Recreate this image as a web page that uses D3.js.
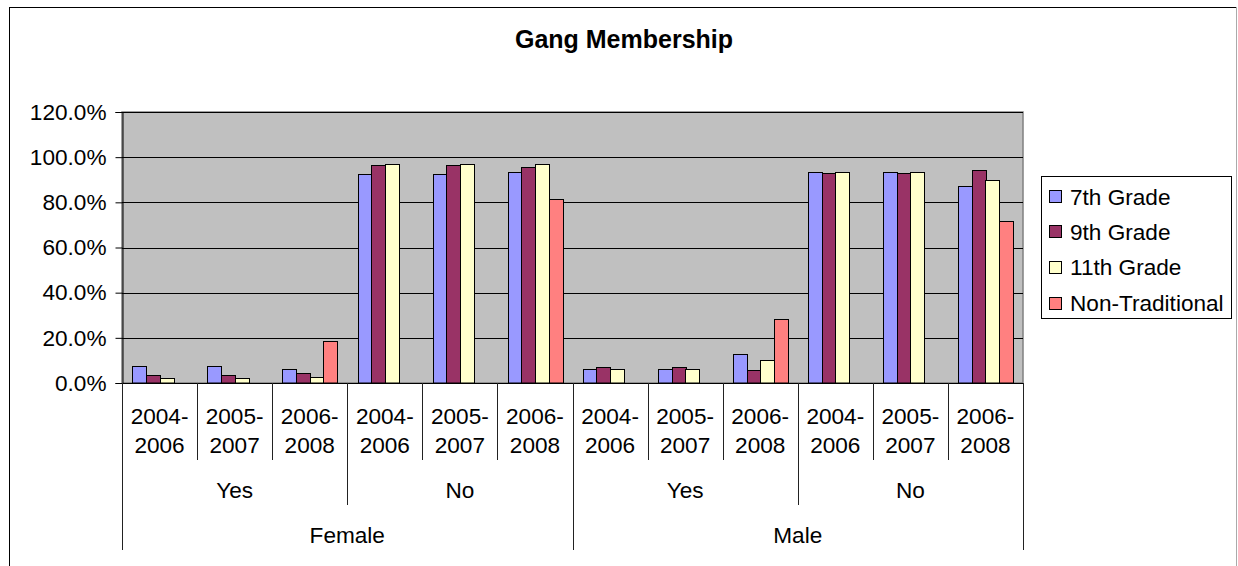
<!DOCTYPE html>
<html>
<head>
<meta charset="utf-8">
<script src="https://cdn.jsdelivr.net/npm/d3@7/dist/d3.min.js"></script>
<style>
  html, body { margin: 0; padding: 0; background: #fff; }
  svg { display: block; }
  text { font-family: "Liberation Sans", Arial, sans-serif; fill: #000; }
</style>
</head>
<body>
<svg id="chart" width="1238" height="566"></svg>
<script>
// ---- data ----
const genders = ["Female", "Male"];
const memberships = ["Yes", "No"];
const periods = ["2004-2006", "2005-2007", "2006-2008"];
const seriesNames = ["7th Grade", "9th Grade", "11th Grade", "Non-Traditional"];
const seriesColors = ["#9999FF", "#993366", "#FFFFCC", "#FF8080"];
// values in percent, ordered Female-Yes, Female-No, Male-Yes, Male-No, each by period
const grade7  = [7.7, 7.7, 6.2,  92.4, 92.4, 93.6,  6.2, 6.2, 12.8,  93.6, 93.6, 87.1];
const grade9  = [3.5, 3.5, 4.3,  96.5, 96.5, 95.8,  7.0, 7.0, 5.8,   93.0, 93.0, 94.3];
const grade11 = [2.1, 2.1, 2.8,  97.1, 97.1, 97.1,  6.2, 6.2, 10.0,  93.6, 93.6, 90.0];
const nonTrad = [null, null, 18.6,  null, null, 81.4,  null, null, 28.5,  null, null, 71.6];
const yTicks = [0, 20, 40, 60, 80, 100, 120];
const title = "Gang Membership";

// ---- build categories ----
const categories = [];
genders.forEach(g => memberships.forEach(m => periods.forEach(p => categories.push({g, m, p, key: g + "|" + m + "|" + p}))));
const seriesData = [grade7, grade9, grade11, nonTrad];

const svg = d3.select("#chart");
const W = 1238, H = 566;
const plot = {left: 122, right: 1023, top: 112, bottom: 383};
const FS = "22.6px";

// outer frame
svg.append("line").attr("x1", 9.5).attr("x2", 9.5).attr("y1", 7).attr("y2", H).attr("stroke", "#000");
svg.append("line").attr("x1", 9).attr("x2", 1237).attr("y1", 7.5).attr("y2", 7.5).attr("stroke", "#000");
svg.append("line").attr("x1", 1236.5).attr("x2", 1236.5).attr("y1", 7).attr("y2", H).attr("stroke", "#aaa");

// title
svg.append("text").attr("x", 624).attr("y", 48).attr("text-anchor", "middle")
  .style("font-size", "25px").style("font-weight", "bold").text(title);

const x0 = d3.scaleBand().domain(categories.map(d => d.key)).range([plot.left, plot.right]).padding(0);
const bw = x0.bandwidth();
const x1 = d3.scaleBand().domain(seriesNames).range([10.3, bw - 10.3]).padding(0);
const y = d3.scaleLinear().domain([0, 120]).range([plot.bottom, plot.top]);

// plot background
svg.append("rect").attr("x", plot.left).attr("y", plot.top)
  .attr("width", plot.right - plot.left).attr("height", plot.bottom - plot.top)
  .attr("fill", "#C0C0C0").attr("stroke", "#808080").attr("stroke-width", 1.5);

// gridlines
svg.append("g").selectAll("line").data(yTicks.filter(t => t > 0)).join("line")
  .attr("x1", plot.left).attr("x2", plot.right)
  .attr("y1", d => Math.round(y(d)) + 0.5).attr("y2", d => Math.round(y(d)) + 0.5)
  .attr("stroke", "#000").attr("stroke-width", 1);

// y axis
const yAxis = d3.axisLeft(y).tickValues(yTicks).tickSize(7).tickPadding(9)
  .tickFormat(d => d3.format(".1f")(d) + "%");
const yg = svg.append("g").attr("transform", `translate(${plot.left + 0.5},0)`).call(yAxis);
yg.select(".domain").attr("stroke", "#000");
yg.selectAll(".tick line").attr("stroke", "#000");
yg.selectAll(".tick text").style("font-size", FS).style("font-family", "Liberation Sans, Arial, sans-serif").attr("fill", "#000");

// bars
const barG = svg.append("g");
categories.forEach((c, i) => {
  seriesNames.forEach((s, j) => {
    const v = seriesData[j][i];
    if (v === null || v === undefined) return;
    const bx = Math.round(x0(c.key) + x1(s)) + 0.5;
    const by = Math.round(y(v)) + 0.5;
    barG.append("rect")
      .attr("x", bx).attr("y", by)
      .attr("width", Math.round(x1.bandwidth()))
      .attr("height", Math.max(0, plot.bottom - by))
      .attr("fill", seriesColors[j]).attr("stroke", "#000").attr("stroke-width", 1);
  });
});

// x axis baseline
svg.append("line").attr("x1", plot.left).attr("x2", plot.right)
  .attr("y1", plot.bottom + 0.5).attr("y2", plot.bottom + 0.5).attr("stroke", "#000");

// multi-level category labels
const lvl1Bottom = 460, lvl2Bottom = 505, lvl3Bottom = 550;
const axG = svg.append("g");
categories.forEach((c, i) => {
  const xs = x0(c.key);
  const [a, b] = c.p.split("-");
  const cx = xs + bw / 2;
  axG.append("text").attr("x", cx).attr("y", 424).attr("text-anchor", "middle").style("font-size", FS).text(a + "-");
  axG.append("text").attr("x", cx).attr("y", 453).attr("text-anchor", "middle").style("font-size", FS).text(b);
  let bottom = lvl1Bottom;
  if (i % 6 === 0) bottom = lvl3Bottom; else if (i % 3 === 0) bottom = lvl2Bottom;
  axG.append("line").attr("x1", Math.round(xs) + 0.5).attr("x2", Math.round(xs) + 0.5)
    .attr("y1", plot.bottom).attr("y2", bottom).attr("stroke", "#222");
});
axG.append("line").attr("x1", plot.right + 0.5).attr("x2", plot.right + 0.5)
  .attr("y1", plot.bottom).attr("y2", lvl3Bottom).attr("stroke", "#222");

// level 2 labels (Yes/No)
genders.forEach(g => memberships.forEach(m => {
  const keys = periods.map(p => g + "|" + m + "|" + p);
  const cx = (x0(keys[0]) + x0(keys[keys.length - 1]) + bw) / 2;
  axG.append("text").attr("x", cx).attr("y", 498).attr("text-anchor", "middle").style("font-size", FS).text(m);
}));
// level 3 labels (gender)
genders.forEach(g => {
  const keys = categories.filter(c => c.g === g).map(c => c.key);
  const cx = (x0(keys[0]) + x0(keys[keys.length - 1]) + bw) / 2;
  axG.append("text").attr("x", cx).attr("y", 543).attr("text-anchor", "middle").style("font-size", FS).text(g);
});

// legend
const leg = svg.append("g");
leg.append("rect").attr("x", 1041.5).attr("y", 176.5).attr("width", 190).attr("height", 142)
  .attr("fill", "#fff").attr("stroke", "#000");
const rowY = [196.7, 231.7, 267.3, 303.3];
seriesNames.forEach((s, j) => {
  leg.append("rect").attr("x", 1049.5).attr("y", Math.round(rowY[j] - 6.5) + 0.5).attr("width", 12).attr("height", 12)
    .attr("fill", seriesColors[j]).attr("stroke", "#000");
  leg.append("text").attr("x", 1070).attr("y", rowY[j] + 8).style("font-size", FS).text(s);
});
</script>
</body>
</html>
